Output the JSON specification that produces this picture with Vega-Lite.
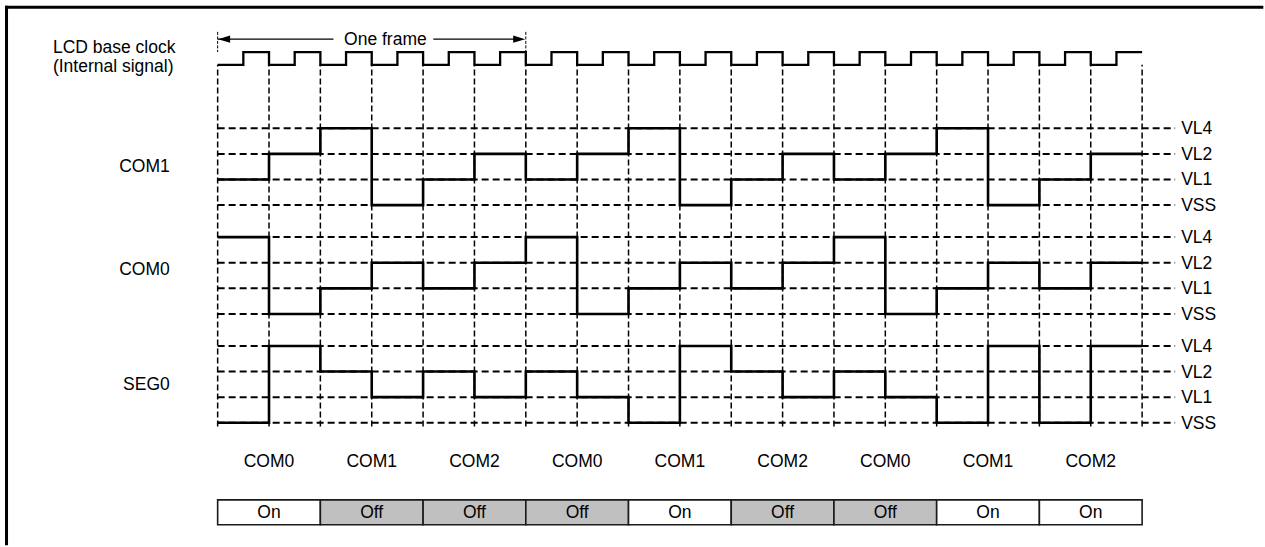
{
  "$schema": "https://vega.github.io/schema/vega-lite/v6.json",
  "width": 1265,
  "height": 547,
  "autosize": {"type": "fit", "contains": "padding"},
  "padding": 0,
  "background": "white",
  "config": {
    "view": {"stroke": null},
    "text": {"font": "Liberation Sans", "fontSize": 17.5, "color": "#000000"}
  },
  "datasets": {
    "signals": [
      {"s": "COM1", "t": 0, "y": 9.5}, {"s": "COM1", "t": 1, "y": 10.5}, {"s": "COM1", "t": 2, "y": 11.5}, {"s": "COM1", "t": 3, "y": 8.5},
      {"s": "COM1", "t": 4, "y": 9.5}, {"s": "COM1", "t": 5, "y": 10.5}, {"s": "COM1", "t": 6, "y": 9.5}, {"s": "COM1", "t": 7, "y": 10.5},
      {"s": "COM1", "t": 8, "y": 11.5}, {"s": "COM1", "t": 9, "y": 8.5}, {"s": "COM1", "t": 10, "y": 9.5}, {"s": "COM1", "t": 11, "y": 10.5},
      {"s": "COM1", "t": 12, "y": 9.5}, {"s": "COM1", "t": 13, "y": 10.5}, {"s": "COM1", "t": 14, "y": 11.5}, {"s": "COM1", "t": 15, "y": 8.5},
      {"s": "COM1", "t": 16, "y": 9.5}, {"s": "COM1", "t": 17, "y": 10.5}, {"s": "COM1", "t": 18, "y": 10.5},
      {"s": "COM0", "t": 0, "y": 7.25}, {"s": "COM0", "t": 1, "y": 4.25}, {"s": "COM0", "t": 2, "y": 5.25}, {"s": "COM0", "t": 3, "y": 6.25},
      {"s": "COM0", "t": 4, "y": 5.25}, {"s": "COM0", "t": 5, "y": 6.25}, {"s": "COM0", "t": 6, "y": 7.25}, {"s": "COM0", "t": 7, "y": 4.25},
      {"s": "COM0", "t": 8, "y": 5.25}, {"s": "COM0", "t": 9, "y": 6.25}, {"s": "COM0", "t": 10, "y": 5.25}, {"s": "COM0", "t": 11, "y": 6.25},
      {"s": "COM0", "t": 12, "y": 7.25}, {"s": "COM0", "t": 13, "y": 4.25}, {"s": "COM0", "t": 14, "y": 5.25}, {"s": "COM0", "t": 15, "y": 6.25},
      {"s": "COM0", "t": 16, "y": 5.25}, {"s": "COM0", "t": 17, "y": 6.25}, {"s": "COM0", "t": 18, "y": 6.25},
      {"s": "SEG0", "t": 0, "y": 0}, {"s": "SEG0", "t": 1, "y": 3}, {"s": "SEG0", "t": 2, "y": 2}, {"s": "SEG0", "t": 3, "y": 1},
      {"s": "SEG0", "t": 4, "y": 2}, {"s": "SEG0", "t": 5, "y": 1}, {"s": "SEG0", "t": 6, "y": 2}, {"s": "SEG0", "t": 7, "y": 1},
      {"s": "SEG0", "t": 8, "y": 0}, {"s": "SEG0", "t": 9, "y": 3}, {"s": "SEG0", "t": 10, "y": 2}, {"s": "SEG0", "t": 11, "y": 1},
      {"s": "SEG0", "t": 12, "y": 2}, {"s": "SEG0", "t": 13, "y": 1}, {"s": "SEG0", "t": 14, "y": 0}, {"s": "SEG0", "t": 15, "y": 3},
      {"s": "SEG0", "t": 16, "y": 0}, {"s": "SEG0", "t": 17, "y": 3}, {"s": "SEG0", "t": 18, "y": 3}
    ],
    "clock": [
      {"t": 0, "y": 13.98}, {"t": 0.5, "y": 14.475}, {"t": 1, "y": 13.98}, {"t": 1.5, "y": 14.475},
      {"t": 2, "y": 13.98}, {"t": 2.5, "y": 14.475}, {"t": 3, "y": 13.98}, {"t": 3.5, "y": 14.475},
      {"t": 4, "y": 13.98}, {"t": 4.5, "y": 14.475}, {"t": 5, "y": 13.98}, {"t": 5.5, "y": 14.475},
      {"t": 6, "y": 13.98}, {"t": 6.5, "y": 14.475}, {"t": 7, "y": 13.98}, {"t": 7.5, "y": 14.475},
      {"t": 8, "y": 13.98}, {"t": 8.5, "y": 14.475}, {"t": 9, "y": 13.98}, {"t": 9.5, "y": 14.475},
      {"t": 10, "y": 13.98}, {"t": 10.5, "y": 14.475}, {"t": 11, "y": 13.98}, {"t": 11.5, "y": 14.475},
      {"t": 12, "y": 13.98}, {"t": 12.5, "y": 14.475}, {"t": 13, "y": 13.98}, {"t": 13.5, "y": 14.475},
      {"t": 14, "y": 13.98}, {"t": 14.5, "y": 14.475}, {"t": 15, "y": 13.98}, {"t": 15.5, "y": 14.475},
      {"t": 16, "y": 13.98}, {"t": 16.5, "y": 14.475}, {"t": 17, "y": 13.98}, {"t": 17.5, "y": 14.475},
      {"t": 18, "y": 14.475}
    ],
    "grid": [
      {"t": 0}, {"t": 1}, {"t": 2}, {"t": 3}, {"t": 4}, {"t": 5}, {"t": 6}, {"t": 7}, {"t": 8}, {"t": 9},
      {"t": 10}, {"t": 11}, {"t": 12}, {"t": 13}, {"t": 14}, {"t": 15}, {"t": 16}, {"t": 17}, {"t": 18}
    ],
    "levels": [
      {"y": 11.5, "label": "VL4"}, {"y": 10.5, "label": "VL2"}, {"y": 9.5, "label": "VL1"}, {"y": 8.5, "label": "VSS"},
      {"y": 7.25, "label": "VL4"}, {"y": 6.25, "label": "VL2"}, {"y": 5.25, "label": "VL1"}, {"y": 4.25, "label": "VSS"},
      {"y": 3, "label": "VL4"}, {"y": 2, "label": "VL2"}, {"y": 1, "label": "VL1"}, {"y": 0, "label": "VSS"}
    ],
    "slots": [
      {"slot": "COM0", "state": "On", "t": 0, "t2": 2, "tc": 1},
      {"slot": "COM1", "state": "Off", "t": 2, "t2": 4, "tc": 3},
      {"slot": "COM2", "state": "Off", "t": 4, "t2": 6, "tc": 5},
      {"slot": "COM0", "state": "Off", "t": 6, "t2": 8, "tc": 7},
      {"slot": "COM1", "state": "On", "t": 8, "t2": 10, "tc": 9},
      {"slot": "COM2", "state": "Off", "t": 10, "t2": 12, "tc": 11},
      {"slot": "COM0", "state": "Off", "t": 12, "t2": 14, "tc": 13},
      {"slot": "COM1", "state": "On", "t": 14, "t2": 16, "tc": 15},
      {"slot": "COM2", "state": "On", "t": 16, "t2": 18, "tc": 17}
    ],
    "frame": [
      {"t": -4.14, "t2": 20.36, "y": 16.23, "y2": 16.23},
      {"t": -4.111, "t2": -4.111, "y": 16.29, "y2": -4.78}
    ],
    "arrowLines": [
      {"t": 0, "t2": 2.255},
      {"t": 4.199, "t2": 5.871}
    ],
    "heads": [
      {"t": 0.126, "dir": "L"},
      {"t": 5.871, "dir": "R"}
    ],
    "ticks": [{"t": 0}, {"t": 6}],
    "leftText": [
      {"label": "LCD base clock", "t": -3.208, "y": 14.642},
      {"label": "(Internal signal)", "t": -3.208, "y": 13.875}
    ],
    "sigNames": [
      {"label": "COM1", "t": -0.933, "y": 9.984},
      {"label": "COM0", "t": -0.933, "y": 5.969},
      {"label": "SEG0", "t": -0.933, "y": 1.463}
    ],
    "frameText": [{"label": "One frame", "t": 3.266, "y": 14.94}]
  },
  "layer": [
    {
      "data": {"name": "frame"},
      "mark": {"type": "rule", "color": "#000000", "strokeWidth": 3},
      "encoding": {
        "x": {"field": "t", "type": "quantitative", "axis": null, "scale": {"domain": [-4.2379, 20.3538], "nice": false, "zero": false}},
        "x2": {"field": "t2"},
        "y": {"field": "y", "type": "quantitative", "axis": null, "scale": {"domain": [-4.774, 16.51], "nice": false, "zero": false}},
        "y2": {"field": "y2"}
      }
    },
    {
      "data": {"name": "grid"},
      "mark": {"type": "rule", "color": "#000000", "strokeWidth": 1.5, "strokeDash": [6, 3]},
      "encoding": {
        "x": {"field": "t", "type": "quantitative", "axis": null, "scale": {"domain": [-4.2379, 20.3538], "nice": false, "zero": false}},
        "y": {"datum": -0.144, "type": "quantitative", "axis": null, "scale": {"domain": [-4.774, 16.51], "nice": false, "zero": false}},
        "y2": {"datum": 13.98}
      }
    },
    {
      "data": {"name": "levels"},
      "mark": {"type": "rule", "color": "#000000", "strokeWidth": 2, "strokeDash": [7, 4]},
      "encoding": {
        "x": {"datum": 0, "type": "quantitative", "axis": null, "scale": {"domain": [-4.2379, 20.3538], "nice": false, "zero": false}},
        "x2": {"datum": 18.643},
        "y": {"field": "y", "type": "quantitative", "axis": null, "scale": {"domain": [-4.774, 16.51], "nice": false, "zero": false}}
      }
    },
    {
      "data": {"name": "levels"},
      "mark": {"type": "text", "align": "left", "baseline": "middle", "dy": 1},
      "encoding": {
        "x": {"datum": 18.76, "type": "quantitative", "axis": null, "scale": {"domain": [-4.2379, 20.3538], "nice": false, "zero": false}},
        "y": {"field": "y", "type": "quantitative", "axis": null, "scale": {"domain": [-4.774, 16.51], "nice": false, "zero": false}},
        "text": {"field": "label"}
      }
    },
    {
      "data": {"name": "signals"},
      "mark": {"type": "line", "interpolate": "step-after", "color": "#000000", "strokeWidth": 2.6},
      "encoding": {
        "x": {"field": "t", "type": "quantitative", "axis": null, "scale": {"domain": [-4.2379, 20.3538], "nice": false, "zero": false}},
        "y": {"field": "y", "type": "quantitative", "axis": null, "scale": {"domain": [-4.774, 16.51], "nice": false, "zero": false}},
        "detail": {"field": "s"}
      }
    },
    {
      "data": {"name": "clock"},
      "mark": {"type": "line", "interpolate": "step-after", "color": "#000000", "strokeWidth": 2.3},
      "encoding": {
        "x": {"field": "t", "type": "quantitative", "axis": null, "scale": {"domain": [-4.2379, 20.3538], "nice": false, "zero": false}},
        "y": {"field": "y", "type": "quantitative", "axis": null, "scale": {"domain": [-4.774, 16.51], "nice": false, "zero": false}}
      }
    },
    {
      "data": {"name": "arrowLines"},
      "mark": {"type": "rule", "color": "#000000", "strokeWidth": 1.3},
      "encoding": {
        "x": {"field": "t", "type": "quantitative", "axis": null, "scale": {"domain": [-4.2379, 20.3538], "nice": false, "zero": false}},
        "x2": {"field": "t2"},
        "y": {"datum": 14.98, "type": "quantitative", "axis": null, "scale": {"domain": [-4.774, 16.51], "nice": false, "zero": false}}
      }
    },
    {
      "data": {"name": "heads"},
      "mark": {"type": "point", "filled": true, "opacity": 1, "size": 144, "strokeWidth": 0, "color": "#000000"},
      "encoding": {
        "x": {"field": "t", "type": "quantitative", "axis": null, "scale": {"domain": [-4.2379, 20.3538], "nice": false, "zero": false}},
        "y": {"datum": 14.98, "type": "quantitative", "axis": null, "scale": {"domain": [-4.774, 16.51], "nice": false, "zero": false}},
        "shape": {"field": "dir", "type": "nominal", "legend": null, "scale": {"domain": ["L", "R"], "range": ["M-1,0L1,-0.6L1,0.6Z", "M1,0L-1,-0.6L-1,0.6Z"]}}
      }
    },
    {
      "data": {"name": "ticks"},
      "mark": {"type": "rule", "color": "#000000", "strokeWidth": 1, "strokeDash": [3, 1.5]},
      "encoding": {
        "x": {"field": "t", "type": "quantitative", "axis": null, "scale": {"domain": [-4.2379, 20.3538], "nice": false, "zero": false}},
        "y": {"datum": 15.265, "type": "quantitative", "axis": null, "scale": {"domain": [-4.774, 16.51], "nice": false, "zero": false}},
        "y2": {"datum": 14.475}
      }
    },
    {
      "data": {"name": "frameText"},
      "mark": {"type": "text", "align": "center", "baseline": "middle"},
      "encoding": {
        "x": {"field": "t", "type": "quantitative", "axis": null, "scale": {"domain": [-4.2379, 20.3538], "nice": false, "zero": false}},
        "y": {"field": "y", "type": "quantitative", "axis": null, "scale": {"domain": [-4.774, 16.51], "nice": false, "zero": false}},
        "text": {"field": "label"}
      }
    },
    {
      "data": {"name": "leftText"},
      "mark": {"type": "text", "align": "left", "baseline": "middle"},
      "encoding": {
        "x": {"field": "t", "type": "quantitative", "axis": null, "scale": {"domain": [-4.2379, 20.3538], "nice": false, "zero": false}},
        "y": {"field": "y", "type": "quantitative", "axis": null, "scale": {"domain": [-4.774, 16.51], "nice": false, "zero": false}},
        "text": {"field": "label"}
      }
    },
    {
      "data": {"name": "sigNames"},
      "mark": {"type": "text", "align": "right", "baseline": "middle"},
      "encoding": {
        "x": {"field": "t", "type": "quantitative", "axis": null, "scale": {"domain": [-4.2379, 20.3538], "nice": false, "zero": false}},
        "y": {"field": "y", "type": "quantitative", "axis": null, "scale": {"domain": [-4.774, 16.51], "nice": false, "zero": false}},
        "text": {"field": "label"}
      }
    },
    {
      "data": {"name": "slots"},
      "mark": {"type": "rect", "stroke": "#1a1a1a", "strokeWidth": 1.6},
      "encoding": {
        "x": {"field": "t", "type": "quantitative", "axis": null, "scale": {"domain": [-4.2379, 20.3538], "nice": false, "zero": false}},
        "x2": {"field": "t2"},
        "y": {"datum": -3.012, "type": "quantitative", "axis": null, "scale": {"domain": [-4.774, 16.51], "nice": false, "zero": false}},
        "y2": {"datum": -3.984},
        "fill": {"field": "state", "type": "nominal", "legend": null, "scale": {"domain": ["On", "Off"], "range": ["#ffffff", "#c0c0c0"]}}
      }
    },
    {
      "data": {"name": "slots"},
      "mark": {"type": "text", "align": "center", "baseline": "middle"},
      "encoding": {
        "x": {"field": "tc", "type": "quantitative", "axis": null, "scale": {"domain": [-4.2379, 20.3538], "nice": false, "zero": false}},
        "y": {"datum": -3.529, "type": "quantitative", "axis": null, "scale": {"domain": [-4.774, 16.51], "nice": false, "zero": false}},
        "text": {"field": "state"}
      }
    },
    {
      "data": {"name": "slots"},
      "mark": {"type": "text", "align": "center", "baseline": "middle"},
      "encoding": {
        "x": {"field": "tc", "type": "quantitative", "axis": null, "scale": {"domain": [-4.2379, 20.3538], "nice": false, "zero": false}},
        "y": {"datum": -1.514, "type": "quantitative", "axis": null, "scale": {"domain": [-4.774, 16.51], "nice": false, "zero": false}},
        "text": {"field": "slot"}
      }
    }
  ]
}
